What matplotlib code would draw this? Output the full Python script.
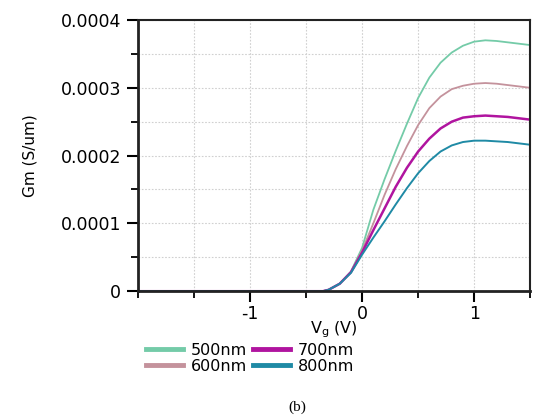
import numpy as np
import matplotlib.pyplot as plt
from matplotlib.ticker import MultipleLocator

# gate voltage (V)
vg = [-2.0, -0.4, -0.35, -0.3, -0.2, -0.1, 0.0, 0.1, 0.2, 0.3, 0.4, 0.5,
      0.6, 0.7, 0.8, 0.9, 1.0, 1.1, 1.2, 1.3, 1.4, 1.5]

# Gm in units of 1e-4 S/um
gm_500 = [0, 0, 0.0, 0.02, 0.11, 0.29, 0.64, 1.2, 1.65, 2.07, 2.47, 2.85,
          3.15, 3.37, 3.52, 3.62, 3.68, 3.70, 3.69, 3.67, 3.65, 3.63]
gm_600 = [0, 0, 0.0, 0.02, 0.11, 0.28, 0.60, 1.0, 1.42, 1.80, 2.14, 2.45,
          2.70, 2.87, 2.98, 3.03, 3.06, 3.07, 3.06, 3.04, 3.02, 3.00]
gm_700 = [0, 0, 0.0, 0.02, 0.11, 0.28, 0.57, 0.90, 1.22, 1.54, 1.82, 2.06,
          2.25, 2.40, 2.50, 2.56, 2.58, 2.59, 2.58, 2.57, 2.55, 2.53]
gm_800 = [0, 0, 0.0, 0.02, 0.11, 0.27, 0.54, 0.79, 1.03, 1.28, 1.52, 1.74,
          1.92, 2.06, 2.15, 2.20, 2.22, 2.22, 2.21, 2.20, 2.18, 2.16]

labels = ['500nm', '600nm', '700nm', '800nm']
colors = ['#74cba8', '#c4929c', '#b0149f', '#1f8aa5']
widths = [1.3, 1.3, 1.8, 1.4]

yticks = [0, 0.0001, 0.0002, 0.0003, 0.0004]
ytick_labels = ['0', '0.0001', '0.0002', '0.0003', '0.0004']
xticks = [-1, 0, 1]
xtick_labels = ['-1', '0', '1']

fig = plt.figure(figsize=(5.35, 4.16), dpi=100)
ax = fig.add_axes([0.258, 0.300, 0.733, 0.652])

x = np.array(vg)
for y, lab, c, w in zip([gm_500, gm_600, gm_700, gm_800], labels, colors, widths):
    ax.plot(x, np.array(y) * 1e-4, color=c, lw=w, label=lab)

ax.set_xlim(-2, 1.5)
ax.set_ylim(0, 0.0004)
ax.set_xticks(xticks, xtick_labels)
ax.set_yticks(yticks, ytick_labels)
ax.xaxis.set_minor_locator(MultipleLocator(0.5))
ax.yaxis.set_minor_locator(MultipleLocator(0.00005))

ax.grid(True, which='both', color='#d0d0d0', ls=(0, (1.5, 1.5)), lw=0.8)
ax.tick_params(which='major', length=8, width=1.5, labelsize=12.5, direction='out', pad=4)
ax.tick_params(axis='x', which='major', pad=2)
ax.tick_params(which='minor', length=5, width=1.3, direction='out')
for s in ['left', 'bottom']:
    ax.spines[s].set_linewidth(2)
for s in ['top', 'right']:
    ax.spines[s].set_linewidth(1.5)
for s in ax.spines.values():
    s.set_color('#222222')

ax.set_ylabel('Gm (S/um)', fontsize=11, labelpad=17)
ax.set_xlabel('V$_\\mathregular{g}$ (V)', fontsize=11.5, labelpad=-3)

leg = ax.legend(ncol=2, loc='upper left', bbox_to_anchor=(0.02, -0.19),
                frameon=False, fontsize=11.5, handlelength=2.3,
                handletextpad=0.5, columnspacing=0.4, labelspacing=0.05,
                borderaxespad=0, borderpad=0)
for h in leg.get_lines():
    h.set_linewidth(3.5)

fig.text(0.555, 0.022, '(b)', family='Liberation Serif', fontsize=11,
         ha='center', va='center')

fig.savefig('out.png', dpi=100)
